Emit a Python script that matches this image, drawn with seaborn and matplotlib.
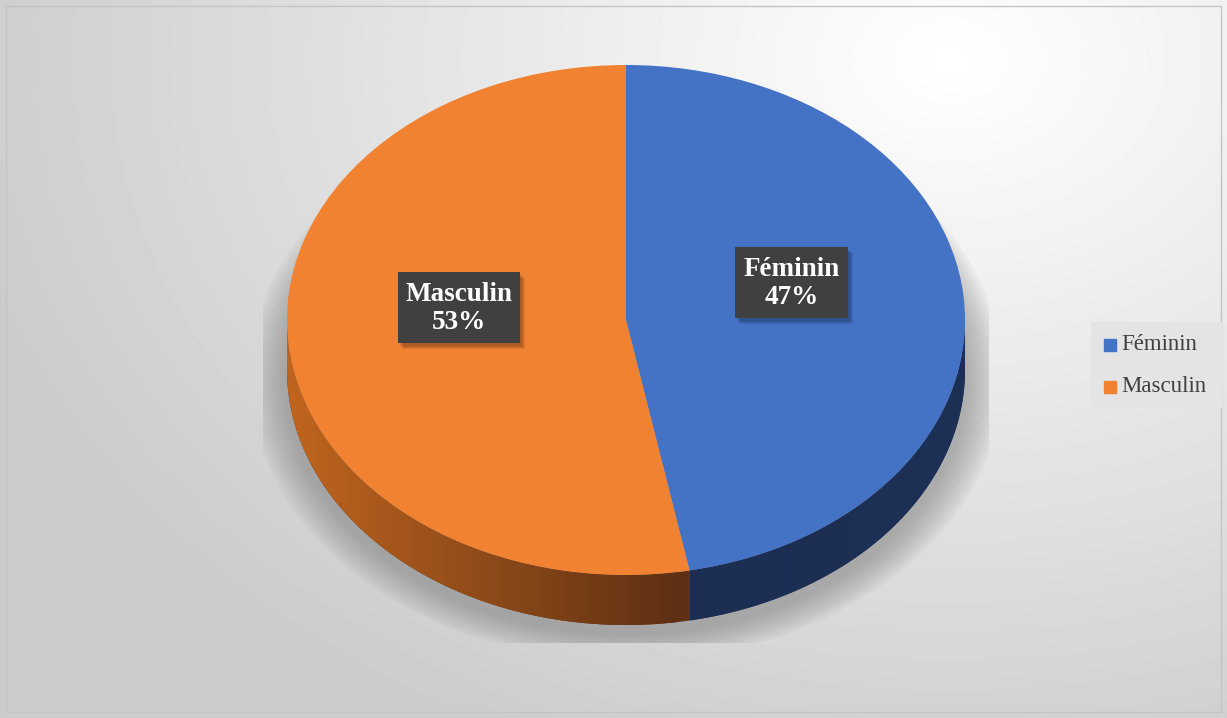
import numpy as np
import matplotlib.pyplot as plt
import seaborn as sns
from matplotlib.patches import Polygon, Ellipse, Rectangle
from matplotlib.colors import LinearSegmentedColormap

# Data
categories = ['Féminin', 'Masculin']
shares = [47, 53]
colors = ['#4472C4', '#F08232']
side_colors = [('#1B2C4F', '#1D3055'), ('#C0651F', '#5E3013')]

sns.set_theme(style='white')
plt.rcParams['font.family'] = ['Liberation Serif', 'DejaVu Serif']

W, H = 1227, 718
fig = plt.figure(figsize=(W / 100, H / 100), dpi=100)

# background gradient
bg = fig.add_axes([0, 0, 1, 1])
yy, xx = np.mgrid[0:H, 0:W]
d = np.sqrt(((xx - 950) / 1000) ** 2 + ((yy - 60) / 750) ** 2)
val = np.clip(1.0 - 0.2 * d, 0.8, 1.0)
bg.imshow(val, cmap='gray', vmin=0, vmax=1, extent=[0, W, H, 0], aspect='auto', zorder=0)
bg.set_xlim(0, W)
bg.set_ylim(H, 0)
bg.plot([6, W - 6, W - 6, 6, 6], [6, 6, H - 6, H - 6, 6], color='#c4c4c4', lw=1)
bg.axis('off')

# pie axes: unit circle -> ellipse rx=339, ry=255 centred at (626, 320) px
cx, cy, rx, ry = 626, 320, 339, 255
depth = 50 / ry
ax = fig.add_axes([0, 0, 1, 1])
ax.patch.set_alpha(0)

# soft shadow under the pie, cut off at the bottom
clip = Rectangle((-1.07, (cy - 643) / ry), 2.14, 3, transform=ax.transData)
for i in range(10):
    s = 1.0 + 0.011 * (10 - i)
    e = Ellipse((0, -depth - 0.03), 2 * s, 2 * s, color='#808080',
                alpha=0.07, lw=0, zorder=0)
    ax.add_patch(e)
    e.set_clip_path(clip)

wedges, _ = ax.pie(shares, colors=colors, startangle=90, counterclock=False,
                   wedgeprops=dict(linewidth=0, zorder=3))
ax.set_aspect('auto')
xl = (-cx / rx, (W - cx) / rx)
yl = ((cy - H) / ry, cy / ry)

# extruded side for the front half of each slice, shaded by a clipped gradient
for w, (c0, c1) in zip(wedges, side_colors):
    t1, t2 = w.theta1, w.theta2
    for off in (-360, 0, 360):
        a, b = max(t1, 180 + off), min(t2, 360 + off)
        if a >= b:
            continue
        ts = np.radians(np.linspace(a, b, 200))
        top = np.column_stack([np.cos(ts), np.sin(ts)])
        bot = np.column_stack([np.cos(ts[::-1]), np.sin(ts[::-1]) - depth])
        poly = Polygon(np.vstack([top, bot]), closed=True, facecolor='none',
                       edgecolor='none', zorder=2)
        ax.add_patch(poly)
        cmap = LinearSegmentedColormap.from_list('side', [c0, c1])
        grad = np.linspace(0, 1, 256)[None, :]
        im = ax.imshow(grad, cmap=cmap, extent=[-1, 0.15, -1.3, 0.1],
                       aspect='auto', zorder=2, interpolation='bilinear')
        if c0 == c1 or np.cos(ts).min() > 0:
            im.set_extent([-1, 1, -1.3, 0.1])
        im.set_clip_path(poly)
        # fill the rest with the end colour so nothing is left empty
        ax.add_patch(Polygon(np.vstack([top, bot]), closed=True, facecolor=c1,
                             edgecolor='none', zorder=1.9))
ax.set_xlim(*xl)
ax.set_ylim(*yl)
ax.axis('off')

# overlay axes in pixel coordinates for labels and legend
ov = fig.add_axes([0, 0, 1, 1])
ov.patch.set_alpha(0)
ov.set_xlim(0, W)
ov.set_ylim(H, 0)
ov.axis('off')

# data labels in dark boxes
label_boxes = [(735, 247, 113, 71), (398, 272, 122, 71)]
for cat, v, (x, y, bw, bh) in zip(categories, shares, label_boxes):
    for k in range(4):
        ov.add_patch(Rectangle((x + 2 + k, y + 3 + k), bw, bh, color='black',
                               alpha=0.08, lw=0, zorder=4))
    ov.add_patch(Rectangle((x, y), bw, bh, color='#404040', lw=0, zorder=5))
    ov.text(x + bw / 2, y + bh / 2 + 1, f'{cat}\n{v}%', ha='center', va='center',
            fontsize=19.5, fontweight='bold', color='white', linespacing=1.2, zorder=6)

# legend
ov.add_patch(Rectangle((1091, 322), 131, 86, fc='#e4e4e4', ec='none', zorder=3))
for i, (cat, c) in enumerate(zip(categories, colors)):
    y = 345 + i * 42
    ov.add_patch(Rectangle((1104, y - 6), 12, 12, color=c, zorder=4))
    ov.text(1121, y, cat, va='center', ha='left', fontsize=16.5, color='#404040', zorder=4)

fig.savefig('out.png', dpi=100)
